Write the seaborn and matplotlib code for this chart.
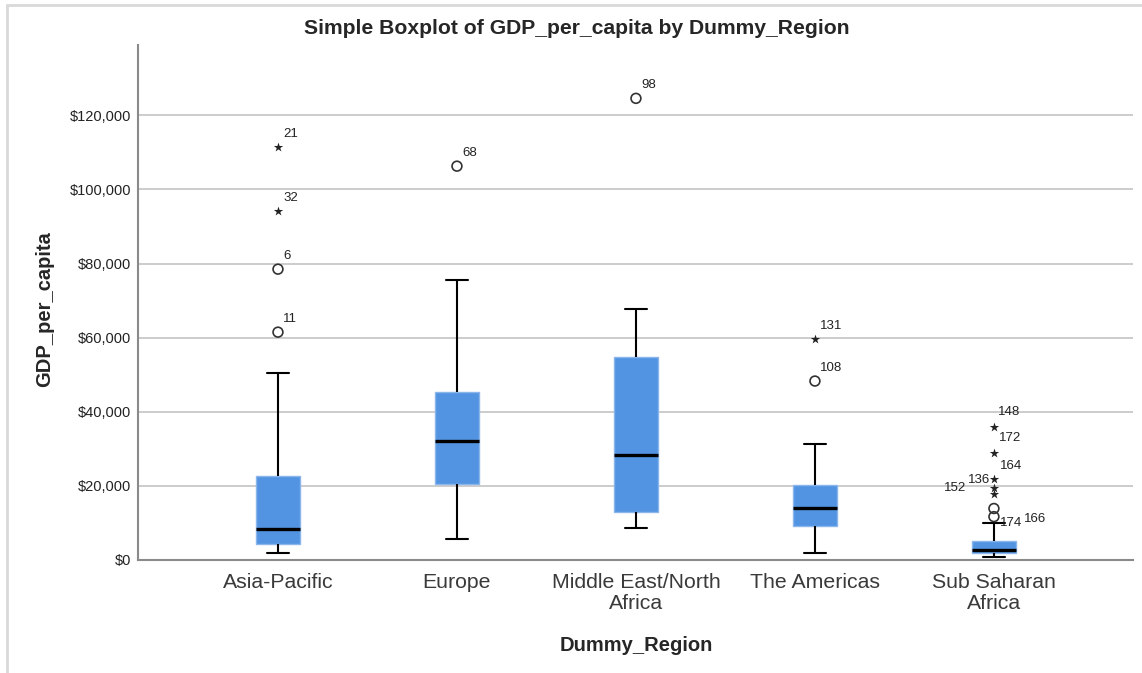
import numpy as np
import pandas as pd
import matplotlib
matplotlib.use("Agg")
import matplotlib.pyplot as plt
from matplotlib.lines import Line2D
from matplotlib.ticker import FuncFormatter
import seaborn as sns

# Five-number summaries (whisker ends, quartiles, median)
regions = ["Asia-Pacific", "Europe", "Middle East/North\nAfrica",
           "The Americas", "Sub Saharan\nAfrica"]
whisker_low = [1900, 5700, 8600, 1900, 800]
q1 = [4300, 20500, 12900, 9200, 1900]
median = [8400, 32100, 28300, 14000, 2700]
q3 = [22600, 45300, 54700, 20200, 5100]
whisker_high = [50400, 75500, 67700, 31300, 10000]

# Outliers: region index, value, SPSS marker kind, case id
outlier_region = [0, 0, 0, 0, 1, 2, 3, 3, 4, 4, 4, 4, 4, 4, 4]
outlier_value = [111600, 94100, 78500, 61500, 106300, 124600, 59600, 48300,
                 35900, 28900, 21800, 19300, 17800, 13900, 11700]
outlier_kind = ["star", "star", "circle", "circle", "circle", "circle", "star", "circle",
                "star", "star", "star", "star", "star", "circle", "circle"]
outlier_id = ["21", "32", "6", "11", "68", "98", "131", "108",
              "148", "172", "164", "136", "152", "166", "174"]

y_ticks = [0, 20000, 40000, 60000, 80000, 100000, 120000]

# label offsets in pixels (dx, dy, ha) where the default does not fit
label_offsets = {
    "148": (4, 15, "left"),
    "172": (5, 15, "left"),
    "164": (6, 13, "left"),
    "136": (-4, 8, "right"),
    "152": (-28, 6, "right"),
    "166": (30, -10, "left"),
    "174": (6, -6, "left"),
}

BOX_BLUE = "#5294E2"
BOX_EDGE = "#8AB6EC"

sns.set_style("white")
plt.rcParams["font.family"] = ["Liberation Sans", "DejaVu Sans"]

# long-form table: the five summary values per region
rows = []
for i, reg in enumerate(regions):
    for v in (whisker_low[i], q1[i], median[i], q3[i], whisker_high[i]):
        rows.append({"Dummy_Region": reg, "GDP_per_capita": v})
df = pd.DataFrame(rows)

fig = plt.figure(figsize=(11.42, 6.73), dpi=100)
ax = fig.add_axes([138 / 1142, 1 - 560 / 673, 995 / 1142, 515 / 673])

ax.yaxis.grid(True, color="#C8C8C8", linewidth=1.3)
ax.set_axisbelow(True)

sns.boxplot(
    data=df,
    x="Dummy_Region",
    y="GDP_per_capita",
    order=regions,
    color=BOX_BLUE,
    saturation=1,
    width=0.25,
    whis=(0, 100),
    showfliers=False,
    linecolor="black",
    linewidth=1.5,
    boxprops=dict(facecolor=BOX_BLUE, edgecolor=BOX_EDGE, linewidth=1.0),
    medianprops=dict(color="black", linewidth=2.4),
    ax=ax,
)

ox = np.array(outlier_region)
oy = np.array(outlier_value)
kinds = np.array(outlier_kind)
circ = kinds == "circle"
star = kinds == "star"
ax.scatter(ox[circ], oy[circ], s=50, facecolors="none", edgecolors="#333333",
           linewidths=1.2, zorder=5)
ax.scatter(ox[star], oy[star], s=50, marker="*", color="#222222",
           linewidths=0, zorder=5)

for x, y, lab in zip(outlier_region, outlier_value, outlier_id):
    dx, dy, ha = label_offsets.get(lab, (5, 13, "left"))
    ax.annotate(lab, (x, y), xytext=(dx, dy), textcoords="offset pixels",
                ha=ha, va="center", fontsize=9.5, color="#222222")

ax.set_ylim(0, 139000)
ax.set_xlim(-0.782, 4.777)
ax.set_yticks(y_ticks)
ax.yaxis.set_major_formatter(FuncFormatter(lambda v, p: f"${v:,.0f}"))
ax.tick_params(axis="y", length=0, pad=5, labelsize=10.5, labelcolor="#222222")
ax.tick_params(axis="x", length=0, pad=9, labelsize=15.3, labelcolor="#3a3a3a")
for t in ax.get_xticklabels():
    t.set_linespacing(1.15)

sns.despine(ax=ax)
for side in ("left", "bottom"):
    ax.spines[side].set_color("#8a8a8a")
    ax.spines[side].set_linewidth(1.5)

ax.set_xlabel("Dummy_Region", fontsize=14.5, fontweight="bold")
ax.set_ylabel("GDP_per_capita", fontsize=14.5, fontweight="bold")
ax.xaxis.set_label_coords(0.5005, -0.148)
ax.yaxis.set_label_coords(-0.0844, 0.487)

fig.text(577 / 1142, 1 - 28 / 673, "Simple Boxplot of GDP_per_capita by Dummy_Region",
         ha="center", va="center", fontsize=15.2, fontweight="bold")

# light frame around the chart area
fig.add_artist(Line2D([7 / 1142, 1], [1 - 5 / 673, 1 - 5 / 673],
                      transform=fig.transFigure, color="#D9D9D9", linewidth=2))
fig.add_artist(Line2D([7 / 1142, 7 / 1142], [0, 1 - 5 / 673],
                      transform=fig.transFigure, color="#D9D9D9", linewidth=2))

fig.savefig("out.png", dpi=100)
